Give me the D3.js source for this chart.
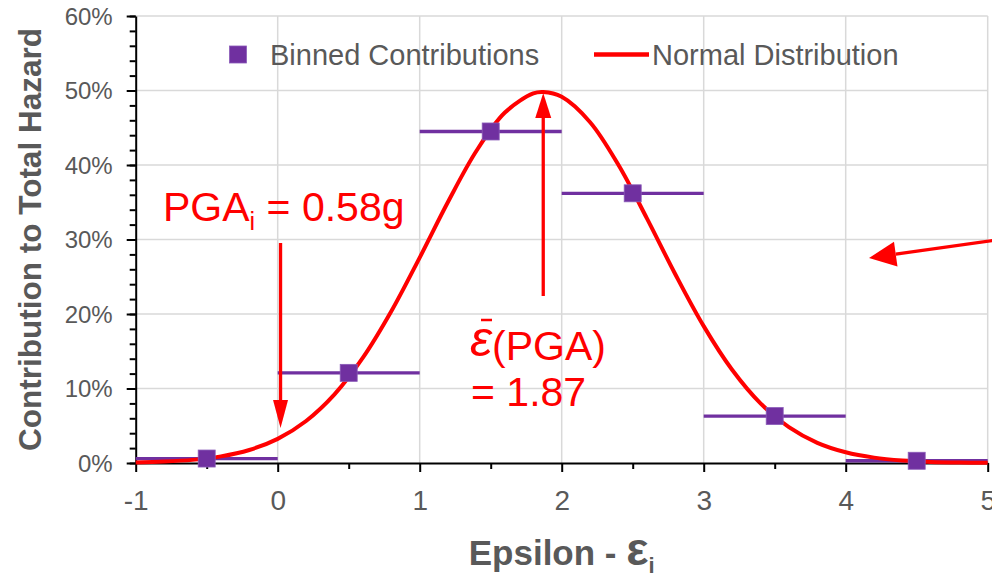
<!DOCTYPE html>
<html>
<head>
<meta charset="utf-8">
<script src="https://cdn.jsdelivr.net/npm/d3@7"></script>
<style>
  html, body { margin: 0; padding: 0; background: #fff; }
  svg { display: block; font-family: "Liberation Sans", Arial, sans-serif; }
</style>
</head>
<body>
<svg id="chart" width="992" height="578"></svg>
<script>
// Binned contributions of epsilon to total hazard (one bin per unit of epsilon)
const binLower = [-1, 0, 1, 2, 3, 4];
const binUpper = [0, 1, 2, 3, 4, 5];
const binCenter = [-0.5, 0.5, 1.5, 2.5, 3.5, 4.5];
const binValue = [0.006, 0.121, 0.445, 0.362, 0.063, 0.003];

// Fitted normal distribution, sampled along epsilon
const normalX = [-1, -0.8, -0.6, -0.4, -0.2, 0, 0.2, 0.4, 0.6, 0.8, 1.0, 1.2, 1.4, 1.6, 1.8, 1.87,
                 2.0, 2.2, 2.4, 2.6, 2.8, 3.0, 3.2, 3.4, 3.6, 3.8, 4.0, 4.2, 4.4, 4.6, 4.8, 5.0];
const normalY = [0.0008, 0.0019, 0.0042, 0.0089, 0.0175, 0.0324, 0.0564, 0.0921, 0.1413, 0.2036,
                 0.2757, 0.3507, 0.4191, 0.4704, 0.4961, 0.4980, 0.4915, 0.4574, 0.3999, 0.3284,
                 0.2534, 0.1837, 0.1251, 0.0800, 0.0481, 0.0271, 0.0144, 0.0072, 0.0034, 0.0015,
                 0.0006, 0.0002];

// Axis ticks
const xTicks = [-1, 0, 1, 2, 3, 4, 5];
const xTickLabels = ["-1", "0", "1", "2", "3", "4", "5"];
const xMinorTicks = [-0.5, 0.5, 1.5, 2.5, 3.5, 4.5];
const yTicks = [0, 0.1, 0.2, 0.3, 0.4, 0.5, 0.6];
const yTickLabels = ["0%", "10%", "20%", "30%", "40%", "50%", "60%"];
const yMinorTicks = d3.range(0, 0.6001, 0.02);

// Annotation values
const pgaLabel = "0.58g";
const epsBar = 1.87;

const PURPLE = "#7030A0", RED = "#FF0000", GRID = "#D9D9D9", TEXT = "#595959";

const svg = d3.select("#chart");
const x = d3.scaleLinear().domain([-1, 5]).range([135.7, 987.7]);
const y = d3.scaleLinear().domain([0, 0.6]).range([463, 16]);

// Gridlines
const grid = svg.append("g");
grid.selectAll("line.v").data(xTicks.slice(1)).join("line")
  .attr("x1", d => x(d)).attr("x2", d => x(d))
  .attr("y1", y(0)).attr("y2", y(0.6))
  .attr("stroke", GRID).attr("stroke-width", 1.5);
grid.selectAll("line.h").data(yTicks.slice(1)).join("line")
  .attr("x1", x(-1)).attr("x2", x(5))
  .attr("y1", d => y(d)).attr("y2", d => y(d))
  .attr("stroke", GRID).attr("stroke-width", 1.5);

// Axes
const xAxis = svg.append("g").attr("transform", `translate(0,${y(0)})`)
  .call(d3.axisBottom(x).tickValues(xTicks).tickSize(9).tickSizeOuter(0)
    .tickFormat((d, i) => xTickLabels[i]));
const xMinor = svg.append("g").attr("transform", `translate(0,${y(0)})`)
  .call(d3.axisBottom(x).tickValues(xMinorTicks).tickSize(6).tickSizeOuter(0).tickFormat(""));
const yAxis = svg.append("g").attr("transform", `translate(${x(-1)},0)`)
  .call(d3.axisLeft(y).tickValues(yTicks).tickSize(9).tickSizeOuter(0)
    .tickFormat((d, i) => yTickLabels[i]));
const yMinor = svg.append("g").attr("transform", `translate(${x(-1)},0)`)
  .call(d3.axisLeft(y).tickValues(yMinorTicks).tickSize(6).tickSizeOuter(0).tickFormat(""));
xMinor.select(".domain").remove();
yMinor.select(".domain").remove();
[xAxis, yAxis, xMinor, yMinor].forEach(g => {
  g.selectAll(".domain").attr("stroke", "#000").attr("stroke-width", 2);
  g.selectAll(".tick line").attr("stroke", "#000").attr("stroke-width", 2);
});
xAxis.selectAll(".tick text")
  .attr("fill", TEXT).attr("font-size", 28).attr("y", 47).attr("dy", 0)
  .style("font-family", "'Liberation Sans', Arial, sans-serif");
yAxis.selectAll(".tick text")
  .attr("fill", TEXT).attr("font-size", 24).attr("x", -23).attr("dy", "0.35em")
  .style("font-family", "'Liberation Sans', Arial, sans-serif");

// Axis titles
const xTitle = svg.append("text")
  .attr("x", x(2)).attr("y", 565).attr("text-anchor", "middle")
  .attr("fill", TEXT).attr("font-size", 35).attr("font-weight", "bold");
xTitle.append("tspan").text("Epsilon - ");
xTitle.append("tspan").attr("font-size", 47).text("ε");
xTitle.append("tspan").attr("font-size", 22).attr("dy", 8).text("i");

svg.append("text")
  .attr("transform", `translate(41,${y(0.3)}) rotate(-90)`)
  .attr("text-anchor", "middle")
  .attr("fill", TEXT).attr("font-size", 31.5).attr("font-weight", "bold")
  .text("Contribution to Total Hazard");

// Bin extents
const bins = binCenter.map((c, i) => ({ c, lo: binLower[i], hi: binUpper[i], v: binValue[i] }));
svg.append("g").selectAll("line").data(bins).join("line")
  .attr("x1", d => x(d.lo)).attr("x2", d => x(d.hi))
  .attr("y1", d => y(d.v)).attr("y2", d => y(d.v))
  .attr("stroke", PURPLE).attr("stroke-width", 3.3);

// Normal distribution curve
const curvePts = normalX.map((v, i) => [v, normalY[i]]);
svg.append("path")
  .datum(curvePts)
  .attr("fill", "none").attr("stroke", RED).attr("stroke-width", 4)
  .attr("stroke-linejoin", "round")
  .attr("d", d3.line().x(d => x(d[0])).y(d => y(d[1])).curve(d3.curveCatmullRom.alpha(0.5)));

// Bin markers
const ms = 17;
svg.append("g").selectAll("rect").data(bins).join("rect")
  .attr("x", d => x(d.c) - ms / 2).attr("y", d => y(d.v) - ms / 2)
  .attr("width", ms).attr("height", ms)
  .attr("fill", PURPLE).attr("stroke", "#8a5bb8").attr("stroke-width", 0.8);

// Legend
const legend = svg.append("g");
legend.append("rect").attr("x", 229.5).attr("y", 46).attr("width", 17).attr("height", 17)
  .attr("fill", PURPLE).attr("stroke", "#8a5bb8").attr("stroke-width", 0.8);
legend.append("text").attr("x", 270).attr("y", 64.5).attr("fill", TEXT).attr("font-size", 29)
  .text("Binned Contributions");
legend.append("line").attr("x1", 594).attr("x2", 649).attr("y1", 54.5).attr("y2", 54.5)
  .attr("stroke", RED).attr("stroke-width", 4.5);
legend.append("text").attr("x", 652).attr("y", 64.5).attr("fill", TEXT).attr("font-size", 29)
  .text("Normal Distribution");

// Annotation arrows: line plus triangular head ending at the tip
function arrow(x1, y1, x2, y2, headLen, headW) {
  const ang = Math.atan2(y2 - y1, x2 - x1);
  const bx = x2 - headLen * Math.cos(ang), by = y2 - headLen * Math.sin(ang);
  const px = -Math.sin(ang) * headW / 2, py = Math.cos(ang) * headW / 2;
  svg.append("line").attr("x1", x1).attr("y1", y1).attr("x2", bx).attr("y2", by)
    .attr("stroke", RED).attr("stroke-width", 3.3);
  svg.append("path")
    .attr("d", `M${x2},${y2}L${bx + px},${by + py}L${bx - px},${by - py}Z`)
    .attr("fill", RED);
}
arrow(x(0.02), 243, x(0.02), 428, 28, 15);
arrow(x(epsBar), 296, x(epsBar), y(0.498) + 1, 25, 16);
arrow(1000, 239.5, 869, 258, 27, 25);

// Annotation text
const pga = svg.append("text").attr("x", 163).attr("y", 221).attr("fill", RED).attr("font-size", 41);
pga.append("tspan").text("PGA");
pga.append("tspan").attr("font-size", 25).attr("dy", 9).text("i");
pga.append("tspan").attr("dy", -9).text(" = " + pgaLabel);

const eps = svg.append("text").attr("x", 470).attr("y", 356).attr("fill", RED).attr("font-size", 41);
eps.append("tspan").attr("font-style", "italic").attr("font-size", 50).text("ε");
eps.append("tspan").attr("dy", 4).text("(PGA)");
svg.append("line").attr("x1", 481).attr("x2", 492).attr("y1", 320).attr("y2", 320)
  .attr("stroke", RED).attr("stroke-width", 2.5);
svg.append("text").attr("x", 471).attr("y", 406).attr("fill", RED).attr("font-size", 41)
  .text("= " + d3.format(".2f")(epsBar));
</script>
</body>
</html>
